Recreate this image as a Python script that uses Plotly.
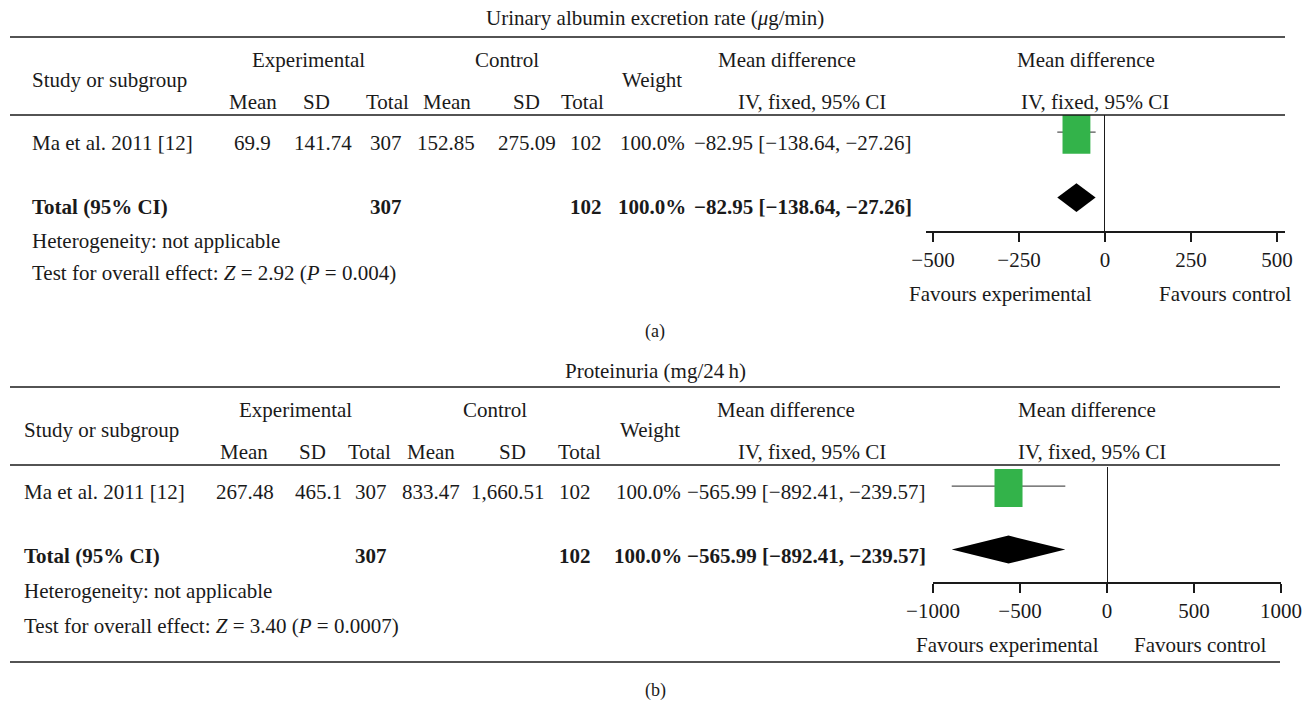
import plotly.graph_objects as go

W, H = 1310, 701
FONT = "Liberation Serif"
FS = 21
INK = "#1a1a1a"
GREEN = "#33b34a"

# ---- data ----------------------------------------------------------------
studies = ["Ma et al. 2011 [12]"]

# (a) Urinary albumin excretion rate
a_exp_mean = [69.9]
a_exp_sd = [141.74]
a_exp_n = [307]
a_ctl_mean = [152.85]
a_ctl_sd = [275.09]
a_ctl_n = [102]
a_weight = [100.0]
a_md = [-82.95]
a_lo = [-138.64]
a_hi = [-27.26]
a_total = {"md": -82.95, "lo": -138.64, "hi": -27.26, "n_exp": 307, "n_ctl": 102, "w": 100.0}
a_z, a_p = "2.92", "0.004"
a_ticks = [-500, -250, 0, 250, 500]

# (b) Proteinuria
b_exp_mean = ["267.48"]
b_exp_sd = ["465.1"]
b_exp_n = [307]
b_ctl_mean = ["833.47"]
b_ctl_sd = ["1,660.51"]
b_ctl_n = [102]
b_weight = [100.0]
b_md = [-565.99]
b_lo = [-892.41]
b_hi = [-239.57]
b_total = {"md": -565.99, "lo": -892.41, "hi": -239.57, "n_exp": 307, "n_ctl": 102, "w": 100.0}
b_z, b_p = "3.40", "0.0007"
b_ticks = [-1000, -500, 0, 500, 1000]


def fx(x):
    return x / W


def fy(y):
    return 1 - y / H


def neg(v, fmt="{:.2f}"):
    s = fmt.format(v)
    return s.replace("-", "\u2212")


fig = go.Figure()
ann = []
shapes = []


def text(x, y, s, anchor="center", size=FS, bold=False):
    if bold:
        s = "<b>" + s + "</b>"
    ann.append(dict(x=fx(x), y=fy(y), xref="paper", yref="paper", text=s,
                    showarrow=False, xanchor=anchor, yanchor="middle",
                    font=dict(family=FONT, size=size, color=INK)))


def hline(y, x0, x1, w=1.6):
    shapes.append(dict(type="line", xref="paper", yref="paper",
                       x0=fx(x0), x1=fx(x1), y0=fy(y), y1=fy(y),
                       line=dict(color=INK, width=w)))


def ci_text(md, lo, hi):
    return f"{neg(md)} [{neg(lo)}, {neg(hi)}]"


def panel(title, title_y, top, cols, rows_y, data, total, z, p, label, label_y,
          line_x1, xa, ya, hw, fav_y, fav_x, foot_line=None):
    text(cols["title"], title_y, title)
    hline(top, 10, line_x1)
    hy1, hy2, hmid = top + 23, top + 65, top + 43
    text(cols["exp_hdr"], hy1, "Experimental")
    text(cols["ctl_hdr"], hy1, "Control")
    text(cols["md_hdr"], hy1, "Mean difference")
    text(cols["plot_hdr"], hy1, "Mean difference")
    text(cols["left"], hmid, "Study or subgroup", anchor="left")
    text(cols["weight"], hmid, "Weight")
    text(cols["em"], hy2, "Mean")
    text(cols["esd"], hy2, "SD")
    text(cols["en"], hy2, "Total")
    text(cols["cm"], hy2, "Mean")
    text(cols["csd"], hy2, "SD")
    text(cols["cn"], hy2, "Total")
    text(cols["ci_hdr"], hy2, "IV, fixed, 95% CI")
    text(cols["plot_ci_hdr"], hy2, "IV, fixed, 95% CI")
    hline(top + 78, 10, line_x1)

    names, em, esd, en, cm, csd, cn, w, md, lo, hi = data
    ry, ty, hy, tsy = rows_y
    for i in range(len(names)):
        text(cols["left"], ry, names[i], anchor="left")
        text(cols["em_v"], ry, str(em[i]))
        text(cols["esd_v"], ry, str(esd[i]))
        text(cols["en_v"], ry, str(en[i]))
        text(cols["cm_v"], ry, str(cm[i]))
        text(cols["csd_v"], ry, str(csd[i]))
        text(cols["cn_v"], ry, str(cn[i]))
        text(cols["w_v"], ry, f"{w[i]:.1f}%")
        text(cols["ci_v"], ry, ci_text(md[i], lo[i], hi[i]))
        # confidence interval and weighted square
        fig.add_trace(go.Scatter(x=[lo[i], hi[i]], y=[i + 1, i + 1], mode="lines",
                                 line=dict(color="#555555", width=1.2),
                                 xaxis=xa, yaxis=ya, hoverinfo="skip", showlegend=False))
        yc = i + 1.03
        fig.add_trace(go.Scatter(x=[md[i] - hw, md[i] + hw, md[i] + hw, md[i] - hw, md[i] - hw],
                                 y=[yc - 0.3, yc - 0.3, yc + 0.3, yc + 0.3, yc - 0.3],
                                 mode="lines", fill="toself", fillcolor=GREEN,
                                 line=dict(width=0, color=GREEN),
                                 xaxis=xa, yaxis=ya, hoverinfo="skip", showlegend=False))
    n = len(names)
    text(cols["left"], ty, "Total (95% CI)", anchor="left", bold=True)
    text(cols["en_v"], ty, str(total["n_exp"]), bold=True)
    text(cols["cn_v"], ty, str(total["n_ctl"]), bold=True)
    text(cols["w_v"], ty, f"{total['w']:.1f}%", bold=True)
    text(cols["ci_v"], ty, ci_text(total["md"], total["lo"], total["hi"]), bold=True)
    dy = n + 1
    fig.add_trace(go.Scatter(x=[total["lo"], total["md"], total["hi"], total["md"], total["lo"]],
                             y=[dy, dy - 0.22, dy, dy + 0.22, dy],
                             mode="lines", fill="toself", fillcolor="black",
                             line=dict(width=0, color="black"),
                             xaxis=xa, yaxis=ya, hoverinfo="skip", showlegend=False))
    text(cols["left"], hy, "Heterogeneity: not applicable", anchor="left")
    text(cols["left"], tsy, f"Test for overall effect: <i>Z</i> = {z} (<i>P</i> = {p})", anchor="left")
    text(fav_x[0], fav_y, "Favours experimental")
    text(fav_x[1], fav_y, "Favours control")
    text(655, label_y, label, size=18)
    if foot_line is not None:
        hline(foot_line, 10, line_x1)


cols_a = dict(title=655, exp_hdr=308, ctl_hdr=507, md_hdr=787, plot_hdr=1086, left=30,
              weight=652, em=253, esd=316, en=387, cm=447, csd=526, cn=582,
              ci_hdr=812, plot_ci_hdr=1095,
              em_v=252, esd_v=323, en_v=386, cm_v=446, csd_v=527, cn_v=586, w_v=652, ci_v=803)
panel("Urinary albumin excretion rate (<i>\u03bc</i>g/min)", 18, 37, cols_a,
      (143, 207, 241, 273),
      (studies, a_exp_mean, a_exp_sd, a_exp_n, a_ctl_mean, a_ctl_sd, a_ctl_n,
       a_weight, a_md, a_lo, a_hi),
      a_total, a_z, a_p, "(a)", 331, 1285, "x", "y", 40.5, 294, (1000, 1225))

cols_b = dict(title=655, exp_hdr=295, ctl_hdr=495, md_hdr=786, plot_hdr=1087, left=22,
              weight=650, em=244, esd=312, en=369, cm=431, csd=512, cn=579,
              ci_hdr=812, plot_ci_hdr=1092,
              em_v=245, esd_v=318, en_v=371, cm_v=431, csd_v=508, cn_v=575, w_v=648, ci_v=806)
panel("Proteinuria (mg/24\u2009h)", 371, 387, cols_b,
      (492, 556, 591, 626),
      (studies, b_exp_mean, b_exp_sd, b_exp_n, b_ctl_mean, b_ctl_sd, b_ctl_n,
       b_weight, b_md, b_lo, b_hi),
      b_total, b_z, b_p, "(b)", 690, 1280, "x2", "y2", 80.5, 645, (1007, 1200),
      foot_line=662)


def tick_text(vals):
    return [str(v).replace("-", "\u2212") for v in vals]


axis_common = dict(showgrid=False, zeroline=True, zerolinecolor=INK, zerolinewidth=1.2,
                   showline=True, linecolor=INK, linewidth=1.6, ticks="outside",
                   ticklen=9, tickwidth=1.6, tickcolor=INK, fixedrange=True,
                   automargin=False,
                   tickfont=dict(family=FONT, size=FS, color=INK))

fig.update_layout(
    width=W, height=H, margin=dict(l=0, r=0, t=0, b=0, pad=0, autoexpand=False),
    paper_bgcolor="white", plot_bgcolor="white", showlegend=False,
    xaxis=dict(domain=[fx(926), fx(1285)], range=[-520.3, 523.3], anchor="y",
               tickvals=a_ticks, ticktext=tick_text(a_ticks), **axis_common),
    yaxis=dict(domain=[fy(231), fy(115)], range=[2.51, 0.74], visible=False,
               fixedrange=True, automargin=False),
    xaxis2=dict(domain=[fx(933), fx(1281)], range=[-1000, 1000], anchor="y2",
                tickvals=b_ticks, ticktext=tick_text(b_ticks), **axis_common),
    yaxis2=dict(domain=[fy(582), fy(467)], range=[2.51, 0.70], visible=False,
                fixedrange=True, automargin=False),
    annotations=ann, shapes=shapes,
)

fig.write_html("out.html")
